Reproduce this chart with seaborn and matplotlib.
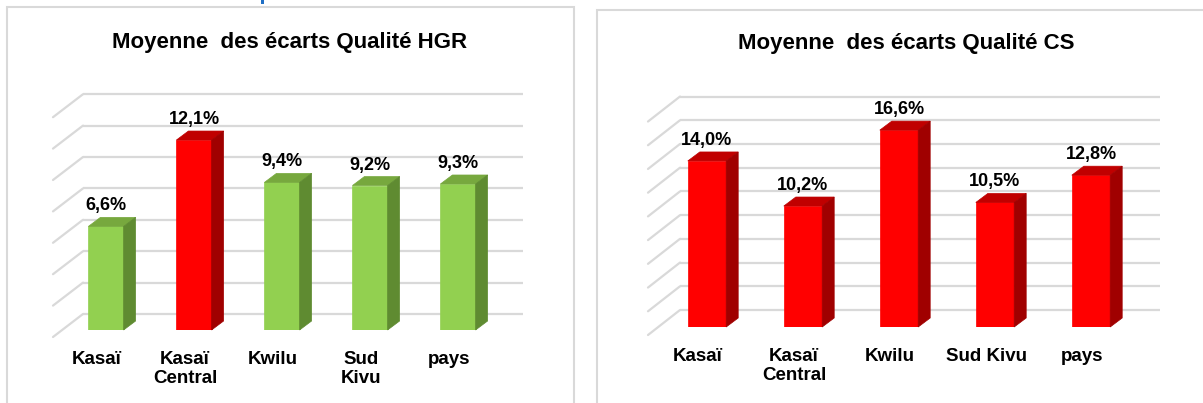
import numpy as np
import matplotlib
matplotlib.use("Agg")
import matplotlib.pyplot as plt
import seaborn as sns
import pandas as pd
from matplotlib.patches import Polygon, Rectangle
from matplotlib.transforms import ScaledTranslation

# data
hgr_regions = ["Kasaï", "Kasaï\nCentral", "Kwilu", "Sud\nKivu", "pays"]
hgr_values = [6.6, 12.1, 9.4, 9.2, 9.3]
hgr_colors = ["green", "red", "green", "green", "green"]

cs_regions = ["Kasaï", "Kasaï\nCentral", "Kwilu", "Sud Kivu", "pays"]
cs_values = [14.0, 10.2, 16.6, 10.5, 12.8]
cs_colors = ["red", "red", "red", "red", "red"]

hgr_ticks = np.arange(0, 15, 2)
cs_ticks = np.arange(0, 19, 2)

# front / top / side shades
shades = {
    "green": ("#92D050", "#77A83E", "#5F8B31"),
    "red": ("#FF0000", "#C00000", "#A00000"),
}

W, H = 1203, 403
sns.set_theme(style="white")
plt.rcParams["font.family"] = ["Liberation Sans", "DejaVu Sans"]

fig = plt.figure(figsize=(W / 100, H / 100), dpi=100)
fig.patch.set_facecolor("white")


def draw_panel(rect_px, regions, values, colors, ticks, title, title_xy,
               back_off, front_off, bar_off=(12, 9)):
    left, bottom_y, width, height = rect_px
    ax = fig.add_axes([left / W, (H - bottom_y) / H, width / W, height / H])
    df = pd.DataFrame({"region": regions, "value": values, "color": colors})
    pal = {r: shades[c][0] for r, c in zip(regions, colors)}
    sns.barplot(data=df, x="region", y="value", hue="region", palette=pal,
                legend=False, width=0.4, saturation=1, ax=ax, zorder=3)
    ax.set_xlim(-0.5, len(regions) - 0.5)
    ax.set_ylim(0, ticks[-1])
    px_x = width / len(regions)
    px_y = height / ticks[-1]

    # back wall gridlines and side wall diagonals
    bx, by = back_off[0] / px_x, back_off[1] / px_y
    fx, fy = front_off[0] / px_x, front_off[1] / px_y
    x0, x1 = ax.get_xlim()
    for t in ticks:
        ax.plot([x0 + bx, x1 + bx], [t + by, t + by], color="#D9D9D9",
                lw=1.6, zorder=1, clip_on=False, solid_capstyle="butt")
        ax.plot([x0 + fx, x0 + bx], [t + fy, t + by], color="#D9D9D9",
                lw=1.6, zorder=1, clip_on=False)

    # 3d faces of the bars
    dx, dy = bar_off[0] / px_x, bar_off[1] / px_y
    for p, c, v in zip(ax.patches, colors, values):
        xa, w, h = p.get_x(), p.get_width(), p.get_height()
        front, top, side = shades[c]
        p.set_edgecolor(front)
        p.set_linewidth(0.5)
        ax.add_patch(Polygon([(xa, h), (xa + w, h), (xa + w + dx, h + dy), (xa + dx, h + dy)],
                             closed=True, facecolor=top, edgecolor=top, lw=0.5,
                             zorder=3, clip_on=False))
        ax.add_patch(Polygon([(xa + w, 0), (xa + w + dx, dy), (xa + w + dx, h + dy), (xa + w, h)],
                             closed=True, facecolor=side, edgecolor=side, lw=0.5,
                             zorder=3, clip_on=False))
        ax.text(xa + w / 2, h + dy + 7 / px_y, f"{v:.1f}%".replace(".", ","),
                ha="center", va="baseline", fontsize=13, fontweight="bold",
                color="black", clip_on=False, zorder=4)

    ax.set_xticks(range(len(regions)))
    ax.set_xticklabels(regions, fontsize=13.5, fontweight="bold", color="black",
                       linespacing=1.2)
    ax.tick_params(axis="x", length=0, pad=15)
    shift = ScaledTranslation(-9 / 100, 0, fig.dpi_scale_trans)
    for lab in ax.get_xticklabels():
        lab.set_transform(lab.get_transform() + shift)
    ax.set_yticks([])
    ax.set_xlabel("")
    ax.set_ylabel("")
    for s in ax.spines.values():
        s.set_visible(False)
    ax.patch.set_alpha(0)

    fig.text(title_xy[0] / W, (H - title_xy[1]) / H, title, ha="center",
             va="baseline", fontsize=16, fontweight="bold", color="black")
    return ax


# panel frames
fig.patches.append(Rectangle((7 / W, -0.05), (574 - 7) / W, (H - 7) / H + 0.05,
                             transform=fig.transFigure, fill=False,
                             edgecolor="#D9D9D9", lw=1.5))
fig.patches.append(Rectangle((597 / W, -0.05), 0.6, (H - 10) / H + 0.05,
                             transform=fig.transFigure, fill=False,
                             edgecolor="#D9D9D9", lw=1.5))

# bit of the blue heading cut off at the top edge
fig.patches.append(Rectangle((261 / W, (H - 4) / H), 3 / W, 5 / H,
                             transform=fig.transFigure, facecolor="#1F6FC5",
                             edgecolor="none"))

draw_panel((62, 330, 440, 14 * 15.7), hgr_regions, hgr_values, hgr_colors,
           hgr_ticks, "Moyenne  des écarts Qualité HGR", (290, 48),
           back_off=(21, 16), front_off=(-9, -7))
draw_panel((659, 327, 480, 18 * 11.86), cs_regions, cs_values, cs_colors,
           cs_ticks, "Moyenne  des écarts Qualité CS", (906, 49),
           back_off=(21, 17), front_off=(-11, -8))

fig.savefig("out.png", dpi=100, facecolor="white")
